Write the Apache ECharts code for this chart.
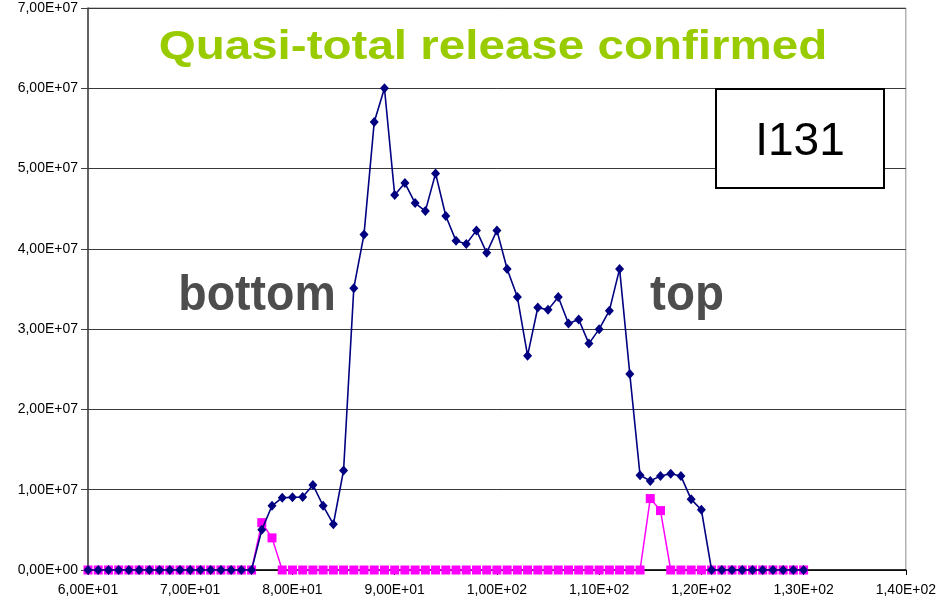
<!DOCTYPE html>
<html>
<head>
<meta charset="utf-8">
<script src="https://cdn.jsdelivr.net/npm/echarts@6/dist/echarts.min.js"></script>
<style>
html,body{margin:0;padding:0;background:#fff;}
#chart{width:939px;height:610px;}
</style>
</head>
<body>
<div id="chart"></div>
<script>
const xValues = [60,61,62,63,64,65,66,67,68,69,70,71,72,73,74,75,76,77,78,79,80,81,82,83,84,85,86,87,88,89,90,91,92,93,94,95,96,97,98,99,100,101,102,103,104,105,106,107,108,109,110,111,112,113,114,115,116,117,118,119,120,121,122,123,124,125,126,127,128,129,130];

const navyValues = [
  0,0,0,0,0,0,0,0,0,0,0,0,0,0,0,0,0,
  5.0e6,8.0e6,9.0e6,9.05e6,9.1e6,1.06e7,8.0e6,5.7e6,1.24e7,
  3.51e7,4.18e7,5.58e7,6.0e7,4.67e7,4.82e7,4.57e7,4.47e7,4.94e7,4.41e7,
  4.10e7,4.06e7,4.23e7,3.95e7,4.23e7,3.75e7,3.40e7,2.67e7,3.27e7,3.24e7,
  3.40e7,3.07e7,3.12e7,2.82e7,3.00e7,3.23e7,3.75e7,2.44e7,1.18e7,1.11e7,
  1.17e7,1.20e7,1.17e7,8.8e6,7.5e6,
  0,0,0,0,0,0,0,0,0,0
];

const pinkValues = [
  0,0,0,0,0,0,0,0,0,0,0,0,0,0,0,0,0,
  5.9e6,4.0e6,
  0,0,0,0,0,0,0,0,0,0,0,0,0,0,0,0,0,0,0,0,0,0,0,0,0,0,0,0,0,0,0,0,0,0,0,0,
  8.9e6,7.4e6,
  0,0,0,0,0,0,0,0,0,0,0,0,0,0
];

const titleText = 'Quasi-total release confirmed';
const isotopeText = 'I131';
const bottomLabel = 'bottom';
const topLabel = 'top';

function sci(v) {
  if (v === 0) return '0,00E+00';
  const e = Math.floor(Math.log10(Math.abs(v)) + 1e-9);
  const m = v / Math.pow(10, e);
  const es = (e < 0 ? '-' : '+') + String(Math.abs(e)).padStart(2, '0');
  return m.toFixed(2).replace('.', ',') + 'E' + es;
}

const FONT = "'Liberation Sans', Arial, sans-serif";
const chart = echarts.init(document.getElementById('chart'), null, {renderer: 'canvas'});

chart.setOption({
  animation: false,
  backgroundColor: '#ffffff',
  grid: {
    left: 88, right: 33, top: 8, bottom: 40,
    show: true, borderColor: '#8c8c8c', borderWidth: 1, backgroundColor: 'transparent'
  },
  xAxis: {
    type: 'value', min: 60, max: 140, interval: 10,
    axisLine: {show: true, onZero: false, lineStyle: {color: '#000', width: 1.5}},
    axisTick: {show: true, length: 5, lineStyle: {color: '#000'}},
    axisLabel: {color: '#000', fontFamily: FONT, fontSize: 14, margin: 13, formatter: sci},
    splitLine: {show: false}
  },
  yAxis: {
    type: 'value', min: 0, max: 7e7, interval: 1e7,
    axisLine: {show: true, lineStyle: {color: '#404040', width: 1.5}},
    axisTick: {show: true, length: 7, lineStyle: {color: '#404040'}},
    axisLabel: {color: '#000', fontFamily: FONT, fontSize: 14, margin: 10, formatter: sci},
    splitLine: {show: true, lineStyle: {color: '#3a3a3a', width: 1}}
  },
  series: [
    {
      type: 'line', name: 'pink',
      data: xValues.map((x, i) => [x, pinkValues[i]]),
      symbol: 'rect', symbolSize: 9,
      itemStyle: {color: '#ff00ff'},
      lineStyle: {color: '#ff00ff', width: 1.5},
      z: 2
    },
    {
      type: 'line', name: 'navy',
      data: xValues.map((x, i) => [x, navyValues[i]]),
      symbol: 'diamond', symbolSize: [9, 10],
      itemStyle: {color: '#000080'},
      lineStyle: {color: '#000080', width: 1.6},
      z: 3
    }
  ],
  graphic: [
    {
      type: 'text', x: 493, y: 48, scaleX: 1.16, z: 10,
      style: {text: titleText, fill: '#99cc00', font: "bold 41px 'Liberation Sans', Arial, sans-serif",
        textAlign: 'center', textVerticalAlign: 'middle'}
    },
    {
      type: 'rect', z: 10,
      shape: {x: 716, y: 89, width: 168, height: 99},
      style: {fill: '#ffffff', stroke: '#000000', lineWidth: 2}
    },
    {
      type: 'text', x: 800, y: 142, z: 11,
      style: {text: isotopeText, fill: '#000000', font: "46px 'Liberation Sans', Arial, sans-serif",
        textAlign: 'center', textVerticalAlign: 'middle'}
    },
    {
      type: 'text', x: 257, y: 296, scaleX: 0.93, z: 10,
      style: {text: bottomLabel, fill: '#4d4d4d', font: "bold 50px 'Liberation Sans', Arial, sans-serif",
        textAlign: 'center', textVerticalAlign: 'middle'}
    },
    {
      type: 'text', x: 687, y: 296, scaleX: 0.95, z: 10,
      style: {text: topLabel, fill: '#4d4d4d', font: "bold 50px 'Liberation Sans', Arial, sans-serif",
        textAlign: 'center', textVerticalAlign: 'middle'}
    }
  ]
});
</script>
</body>
</html>
